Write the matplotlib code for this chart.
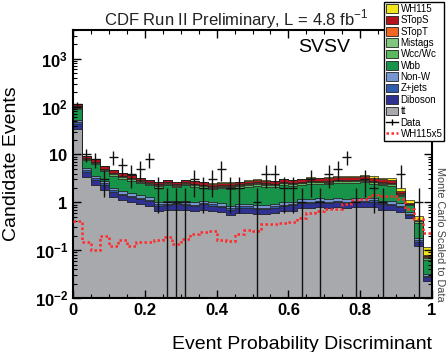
import numpy as np
import matplotlib
matplotlib.use('Agg')
import matplotlib.pyplot as plt
from matplotlib.patches import Patch
from matplotlib.lines import Line2D

plt.rcParams['font.family'] = ['Liberation Sans', 'DejaVu Sans']
plt.rcParams['mathtext.fontset'] = 'custom'
plt.rcParams['mathtext.rm'] = 'Liberation Sans'
plt.rcParams['mathtext.bf'] = 'Liberation Sans:bold'

# 40 bins on [0, 1]
edges = np.linspace(0, 1, 41)

tt = [34, 3.4, 2.3, 1.8, 1.3, 1.1, 1.0, 0.9, 0.83, 0.66,
      0.68, 0.70, 0.68, 0.65, 0.70, 0.66, 0.62, 0.54, 0.60, 0.60,
      0.56, 0.56, 0.60, 0.65, 0.67, 0.75, 0.75, 0.78, 0.75, 0.78,
      0.75, 0.78, 0.78, 0.80, 0.70, 0.68, 0.62, 0.46, 0.12, 0.022]
diboson = [9.5, 0.95, 0.64, 0.50, 0.36, 0.31, 0.28, 0.25, 0.23, 0.18,
           0.19, 0.20, 0.19, 0.18, 0.20, 0.18, 0.17, 0.15, 0.17, 0.17,
           0.16, 0.16, 0.17, 0.18, 0.19, 0.21, 0.21, 0.22, 0.21, 0.22,
           0.21, 0.22, 0.22, 0.22, 0.20, 0.19, 0.17, 0.08, 0.03, 0.004]
zjets = [3.4, 0.34, 0.23, 0.18, 0.13, 0.11, 0.10, 0.09, 0.083, 0.066,
         0.068, 0.07, 0.068, 0.065, 0.07, 0.066, 0.062, 0.054, 0.06, 0.06,
         0.056, 0.056, 0.06, 0.065, 0.067, 0.075, 0.075, 0.078, 0.075, 0.078,
         0.075, 0.078, 0.078, 0.08, 0.07, 0.068, 0.062, 0.04, 0.012, 0.002]
nonw = [5.8, 0.58, 0.39, 0.31, 0.22, 0.19, 0.17, 0.15, 0.14, 0.11,
        0.12, 0.12, 0.12, 0.11, 0.12, 0.11, 0.11, 0.092, 0.10, 0.10,
        0.095, 0.095, 0.10, 0.11, 0.11, 0.13, 0.13, 0.13, 0.13, 0.13,
        0.13, 0.13, 0.13, 0.14, 0.12, 0.12, 0.11, 0.06, 0.018, 0.002]
wbb = [36.9, 2.30, 2.63, 1.66, 1.60, 1.43, 1.29, 1.13, 1.01, 1.02,
       1.19, 0.96, 1.19, 1.09, 0.94, 0.86, 1.00, 1.10, 1.08, 1.21,
       1.33, 1.21, 1.16, 1.27, 1.17, 1.13, 1.25, 1.20, 1.22, 1.33,
       1.34, 1.34, 1.39, 1.19, 1.18, 1.14, 0.41, 0.22, 0.19, 0.032]
wcc = [6.0, 0.37, 0.43, 0.27, 0.26, 0.23, 0.21, 0.18, 0.16, 0.17,
       0.19, 0.16, 0.19, 0.18, 0.15, 0.14, 0.16, 0.18, 0.18, 0.20,
       0.22, 0.20, 0.19, 0.21, 0.19, 0.18, 0.20, 0.20, 0.20, 0.22,
       0.22, 0.22, 0.23, 0.19, 0.19, 0.19, 0.07, 0.05, 0.04, 0.007]
mistags = [3.2, 0.20, 0.23, 0.14, 0.14, 0.13, 0.11, 0.10, 0.09, 0.09,
           0.10, 0.08, 0.10, 0.10, 0.08, 0.08, 0.09, 0.10, 0.09, 0.11,
           0.12, 0.11, 0.10, 0.11, 0.10, 0.10, 0.11, 0.10, 0.11, 0.12,
           0.12, 0.12, 0.12, 0.10, 0.10, 0.10, 0.04, 0.02, 0.01, 0.003]
stopt = [3.5, 0.29, 0.24, 0.17, 0.14, 0.12, 0.11, 0.10, 0.09, 0.08,
         0.09, 0.08, 0.09, 0.084, 0.08, 0.075, 0.078, 0.078, 0.08, 0.087,
         0.09, 0.086, 0.086, 0.093, 0.09, 0.093, 0.10, 0.10, 0.10, 0.11,
         0.11, 0.11, 0.11, 0.11, 0.10, 0.096, 0.06, 0.01, 0.005, 0.002]
stops = [12.6, 1.05, 0.88, 0.63, 0.52, 0.45, 0.41, 0.36, 0.33, 0.30,
         0.33, 0.30, 0.33, 0.31, 0.30, 0.28, 0.29, 0.29, 0.30, 0.32,
         0.33, 0.31, 0.31, 0.34, 0.33, 0.34, 0.36, 0.36, 0.36, 0.39,
         0.39, 0.40, 0.41, 0.39, 0.36, 0.35, 0.22, 0.03, 0.01, 0.004]
wh115 = [0.08, 0.03, 0.02, 0.04, 0.024, 0.033, 0.024, 0.029, 0.029, 0.032,
         0.037, 0.027, 0.034, 0.044, 0.047, 0.05, 0.033, 0.031, 0.044, 0.054,
         0.05, 0.071, 0.071, 0.074, 0.078, 0.095, 0.12, 0.13, 0.15, 0.14,
         0.18, 0.22, 0.23, 0.28, 0.28, 0.27, 0.25, 0.13, 0.07, 0.035]
wh115x5 = [0.40, 0.15, 0.10, 0.20, 0.12, 0.165, 0.12, 0.146, 0.146, 0.16,
           0.186, 0.137, 0.17, 0.22, 0.237, 0.25, 0.165, 0.155, 0.22, 0.27,
           0.25, 0.355, 0.355, 0.37, 0.39, 0.475, 0.60, 0.66, 0.74, 0.72,
           0.91, 1.12, 1.15, 1.42, 1.38, 1.36, 1.16, 0.74, 0.44, 0.23]
data = [115, 10, 8, 3, 9, 6, 4, 5, 8, 2,
        1, 1, 1, 3, 2, 3, 5, 2, 2, 0,
        1, 4, 4, 2, 2, 1, 3, 1, 4, 5,
        9, 1, 3, 2, 1, 0, 4, 0, 1, 0]

samples = [('tt', tt, '#a7a9ac'),
           ('Diboson', diboson, '#2e3192'),
           ('Z+jets', zjets, '#2f5cac'),
           ('Non-W', nonw, '#7596d2'),
           ('Wbb', wbb, '#17944a'),
           ('Wcc/Wc', wcc, '#5cb85f'),
           ('Mistags', mistags, '#80c67e'),
           ('STopT', stopt, '#f26522'),
           ('STopS', stops, '#b5121b'),
           ('WH115', wh115, '#f2e51c')]

fig = plt.figure(figsize=(4.48, 3.52), dpi=100)
ax = fig.add_axes([73/448, 1 - 298/352, (432 - 73)/448, (298 - 30)/352])
ax.set_yscale('log')

bottom = np.full(40, 1e-3)
for name, vals, col in samples:
    top = bottom + np.array(vals)
    ax.stairs(top, edges, baseline=bottom, fill=True, facecolor=col,
              edgecolor='#222222', linewidth=0.5)
    bottom = top

ax.stairs(wh115x5, edges, baseline=None, color='#ff2a2a', lw=1.8,
          linestyle=(0, (1, 1)), zorder=4)

centers = 0.5 * (edges[:-1] + edges[1:])
n = np.array(data, dtype=float)
keep = n > 0
err = np.sqrt(n[keep])
lo = np.maximum(n[keep] - err, 1e-4)
ax.errorbar(centers[keep], n[keep], yerr=[n[keep] - lo, err], xerr=0.0125,
            fmt='none', ecolor='#111111', elinewidth=1.0, capsize=0, zorder=5)

ax.set_xlim(0, 1)
ax.set_ylim(1e-2, 4e3)
ax.set_xticks([0, 0.2, 0.4, 0.6, 0.8, 1.0])
ax.set_xticklabels(['0', '0.2', '0.4', '0.6', '0.8', '1'],
                   fontsize=12, fontweight='bold')
ax.set_xticks(np.arange(0, 1.001, 0.05), minor=True)
ax.set_yticks([1e-2, 1e-1, 1, 10, 1e2, 1e3])
ax.set_yticklabels([r'$\mathbf{10^{-2}}$', r'$\mathbf{10^{-1}}$', r'$\mathbf{1}$',
                    r'$\mathbf{10}$', r'$\mathbf{10^{2}}$', r'$\mathbf{10^{3}}$'],
                   fontsize=12)
ax.tick_params(which='both', direction='in', top=True, right=True)
ax.tick_params(which='major', length=6, width=1)
ax.tick_params(which='minor', length=3, width=0.8)
for sp in ax.spines.values():
    sp.set_linewidth(1.5)

ax.set_xlabel('Event Probability Discriminant', fontsize=14)
ax.xaxis.set_label_coords(1.0, -0.14)
ax.xaxis.label.set_horizontalalignment('right')
ax.set_ylabel('Candidate Events', fontsize=14)
ax.yaxis.set_label_coords(-0.148, 0.5)

ax.text(0.627, 0.933, 'SVSV', transform=ax.transAxes, fontsize=14,
        ha='left', va='center')

fig.text(236/448, 1 - 19/352, 'CDF Run II Preliminary, L = 4.8 fb$^{-1}$',
         ha='center', va='center', fontsize=12, color='#222222')
fig.text(440/448, 1 - 234/352, 'Monte Carlo Scaled to Data', rotation=270,
         ha='center', va='center', fontsize=7.8, color='#444444')

handles = [Patch(facecolor=col, edgecolor='#222222', linewidth=0.6)
           for name, vals, col in samples[::-1]]
labels = [name for name, vals, col in samples[::-1]]
handles += [Line2D([], [], color='k', lw=1, marker='|', markersize=4),
            Line2D([], [], color='#ff2a2a', lw=1.8, linestyle=(0, (1, 1)))]
labels += ['Data', 'WH115x5']
leg = fig.legend(handles, labels, loc='upper left',
                 bbox_to_anchor=(384/448, 1 - 2/352), fontsize=7,
                 frameon=True, fancybox=False, edgecolor='k', framealpha=1,
                 borderaxespad=0, borderpad=0.2, labelspacing=0.14,
                 handlelength=1.2, handleheight=1.0, handletextpad=0.3)
leg.get_frame().set_linewidth(1)

fig.savefig('out.png', dpi=100)
